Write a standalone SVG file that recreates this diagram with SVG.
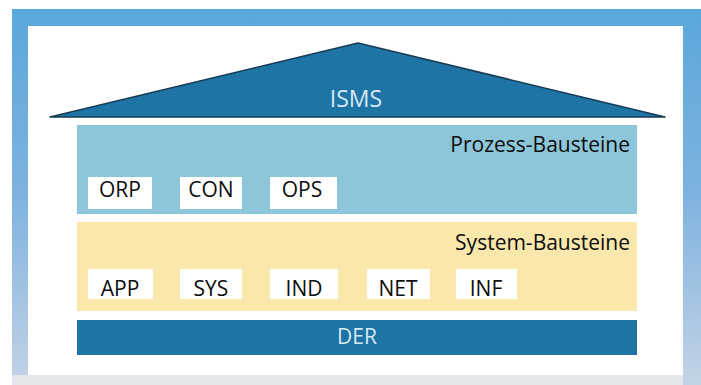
<svg xmlns="http://www.w3.org/2000/svg" width="701" height="385" viewBox="0 0 701 385">
<defs>
<linearGradient id="frame" x1="0" y1="0" x2="0" y2="1">
<stop offset="0" stop-color="#5aa7db"/>
<stop offset="0.5" stop-color="#7fb3df"/>
<stop offset="1" stop-color="#c3d3e6"/>
</linearGradient>
<style>
.lbl{font-family:"Open Sans","Noto Sans",sans-serif;font-size:21px;fill:#0d0d0d}
.box{fill:#ffffff}
.dark{fill:#1f74a6}
.inv{font-family:"Open Sans","Noto Sans",sans-serif;font-size:21px;fill:#d6e8f3}
</style>
</defs>
<rect x="0" y="0" width="701" height="385" fill="#ffffff"/>
<rect x="12" y="9" width="689" height="376" fill="url(#frame)"/>
<rect x="12" y="375" width="671" height="10" fill="#e3e6ea"/>
<rect x="28" y="26" width="655" height="349" fill="#ffffff"/>
<g id="roof">
<polygon points="50,117 358,43 665,117" class="dark" stroke="#163c55" stroke-width="1.5" stroke-linejoin="round"/>
<text x="356" y="107" text-anchor="middle" class="inv" style="font-size:23px">ISMS</text>
</g>
<g id="prozess">
<rect x="77" y="125" width="560" height="89" fill="#8dc6d8"/>
<text x="630" y="152" text-anchor="end" class="lbl">Prozess-Bausteine</text>
</g>
<g id="orp"><rect x="88" y="177" width="64" height="32" class="box"/><text x="120" y="197" text-anchor="middle" class="lbl">ORP</text></g>
<g id="con"><rect x="180" y="177" width="62" height="32" class="box"/><text x="211" y="197" text-anchor="middle" class="lbl">CON</text></g>
<g id="ops"><rect x="270" y="177" width="67" height="32" class="box"/><text x="302" y="197" text-anchor="middle" class="lbl">OPS</text></g>
<g id="system">
<rect x="77" y="222" width="560" height="89" fill="#f9e7ab"/>
<text x="630" y="250" text-anchor="end" class="lbl">System-Bausteine</text>
</g>
<g id="app"><rect x="88" y="269" width="65" height="30" class="box"/><text x="120" y="296" text-anchor="middle" class="lbl">APP</text></g>
<g id="sys"><rect x="180" y="269" width="62" height="30" class="box"/><text x="211" y="296" text-anchor="middle" class="lbl">SYS</text></g>
<g id="ind"><rect x="270" y="269" width="68" height="30" class="box"/><text x="304" y="296" text-anchor="middle" class="lbl">IND</text></g>
<g id="net"><rect x="367" y="269" width="63" height="30" class="box"/><text x="398" y="296" text-anchor="middle" class="lbl">NET</text></g>
<g id="inf"><rect x="456" y="269" width="61" height="30" class="box"/><text x="486" y="296" text-anchor="middle" class="lbl">INF</text></g>
<g id="der">
<rect x="77" y="320" width="560" height="35" class="dark"/>
<text x="357" y="344" text-anchor="middle" class="inv">DER</text>
</g>
<g id="connectors"/>
</svg>
